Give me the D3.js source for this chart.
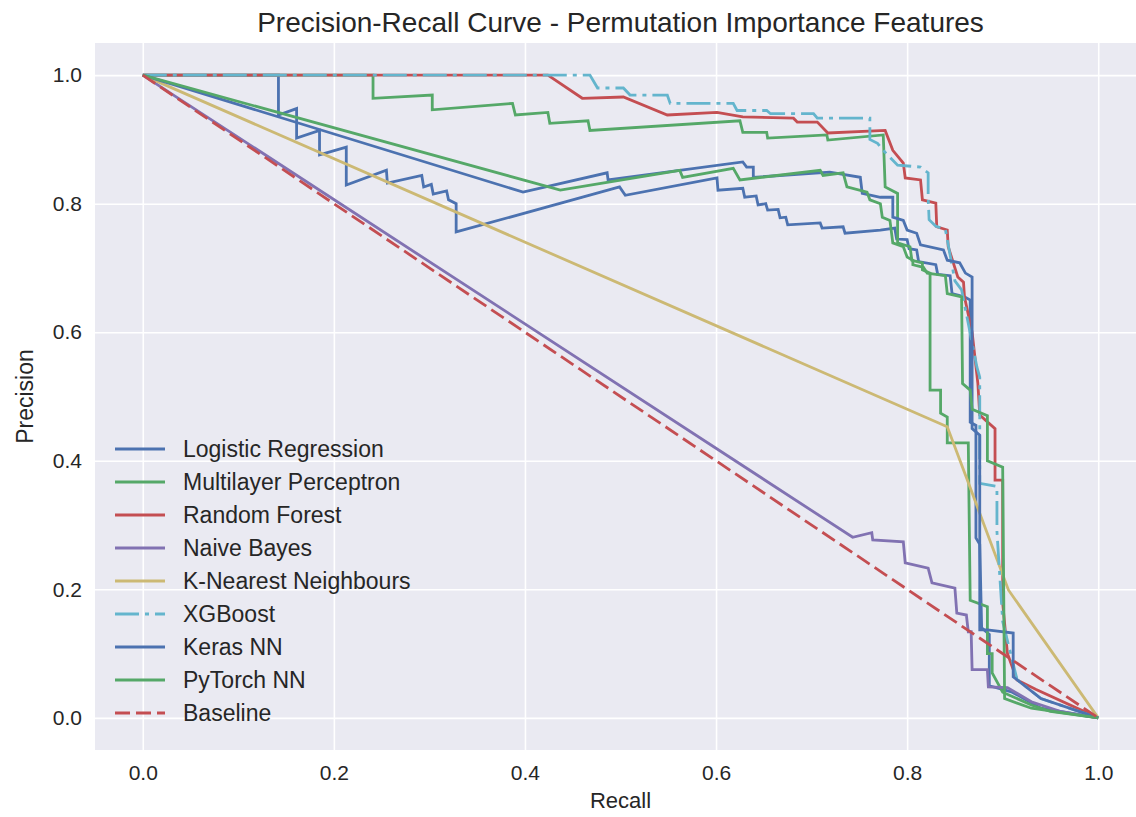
<!DOCTYPE html>
<html>
<head>
<meta charset="utf-8">
<script src="https://cdn.jsdelivr.net/npm/d3@7"></script>
<style>
  body { margin: 0; background: #ffffff; }
  text { font-family: "Liberation Sans", Arial, sans-serif; fill: #262626; }
</style>
</head>
<body>
<svg id="chart" width="1136" height="817"></svg>
<script>
// Tick positions shared by both axes
const tickValues = [0, 0.2, 0.4, 0.6, 0.8, 1.0];

// Legend labels, in plotting order
const modelNames = [
  'Logistic Regression', 'Multilayer Perceptron', 'Random Forest', 'Naive Bayes',
  'K-Nearest Neighbours', 'XGBoost', 'Keras NN', 'PyTorch NN', 'Baseline'
];

// [recall, precision] points
const logisticRegression = [[0,1],[0.142,1],[0.142,0.938],[0.161,0.948],[0.161,0.902],[0.185,0.914],[0.185,0.876],[0.213,0.888],[0.213,0.829],[0.255,0.852],[0.256,0.832],[0.292,0.844],[0.294,0.826],[0.302,0.83],[0.304,0.815],[0.318,0.82],[0.32,0.806],[0.328,0.8],[0.328,0.756],[0.499,0.826],[0.505,0.813],[0.601,0.84],[0.602,0.821],[0.628,0.824],[0.63,0.81],[0.642,0.812],[0.644,0.798],[0.652,0.8],[0.654,0.79],[0.665,0.791],[0.667,0.778],[0.673,0.779],[0.675,0.767],[0.709,0.77],[0.711,0.762],[0.733,0.764],[0.735,0.754],[0.772,0.759],[0.787,0.762],[0.789,0.745],[0.8,0.744],[0.802,0.73],[0.81,0.728],[0.812,0.71],[0.83,0.705],[0.832,0.69],[0.845,0.688],[0.847,0.66],[0.86,0.655],[0.866,0.65],[0.866,0.46],[0.872,0.455],[0.872,0.28],[0.876,0.27],[0.878,0.14],[0.886,0.13],[0.886,0.05],[0.91,0.04],[0.94,0.015],[1,0]];

const multilayerPerceptron = [[0,1],[0.241,1],[0.241,0.964],[0.303,0.969],[0.303,0.946],[0.387,0.956],[0.39,0.938],[0.424,0.942],[0.426,0.925],[0.466,0.929],[0.468,0.914],[0.625,0.929],[0.628,0.911],[0.653,0.911],[0.654,0.902],[0.716,0.907],[0.717,0.899],[0.775,0.907],[0.777,0.826],[0.79,0.816],[0.79,0.739],[0.803,0.733],[0.805,0.712],[0.816,0.708],[0.816,0.697],[0.824,0.692],[0.824,0.51],[0.835,0.51],[0.835,0.474],[0.842,0.468],[0.842,0.428],[0.864,0.428],[0.866,0.183],[0.884,0.173],[0.884,0.1],[0.889,0.1],[0.889,0.07],[0.9,0.04],[0.93,0.02],[0.95,0.01],[1,0]];

const randomForest = [[0,1],[0.424,1],[0.46,0.964],[0.503,0.966],[0.549,0.938],[0.601,0.942],[0.628,0.935],[0.681,0.933],[0.685,0.927],[0.706,0.927],[0.717,0.91],[0.777,0.914],[0.785,0.883],[0.796,0.863],[0.798,0.84],[0.814,0.837],[0.816,0.806],[0.83,0.801],[0.831,0.764],[0.842,0.759],[0.843,0.733],[0.853,0.686],[0.859,0.678],[0.86,0.655],[0.868,0.6],[0.874,0.521],[0.876,0.471],[0.892,0.45],[0.892,0.37],[0.9,0.37],[0.9,0.179],[0.905,0.1],[0.915,0.059],[0.935,0.044],[1,0]];

const naiveBayes = [[0,1],[0.743,0.281],[0.763,0.288],[0.764,0.277],[0.796,0.274],[0.798,0.241],[0.822,0.233],[0.826,0.21],[0.85,0.202],[0.852,0.163],[0.862,0.16],[0.864,0.134],[0.867,0.134],[0.868,0.075],[0.884,0.075],[0.885,0.048],[0.905,0.047],[0.93,0.025],[0.96,0.01],[1,0]];

const kNearest = [[0,1],[0.842,0.453],[0.863,0.37],[0.906,0.199],[1,0]];

const xgBoost = [[0,1],[0.468,1],[0.476,0.98],[0.503,0.98],[0.51,0.969],[0.549,0.969],[0.552,0.956],[0.618,0.956],[0.622,0.945],[0.653,0.945],[0.657,0.94],[0.702,0.94],[0.706,0.933],[0.761,0.933],[0.761,0.9],[0.769,0.894],[0.775,0.883],[0.79,0.86],[0.814,0.857],[0.822,0.848],[0.822,0.81],[0.823,0.775],[0.83,0.765],[0.84,0.76],[0.85,0.68],[0.857,0.666],[0.873,0.546],[0.876,0.53],[0.876,0.365],[0.894,0.36],[0.894,0.29],[0.9,0.15],[0.915,0.06],[0.94,0.03],[1,0]];

const kerasNN = [[0,1],[0.398,0.818],[0.486,0.848],[0.487,0.837],[0.628,0.865],[0.632,0.857],[0.639,0.857],[0.639,0.841],[0.719,0.849],[0.751,0.841],[0.753,0.816],[0.772,0.81],[0.785,0.81],[0.785,0.779],[0.796,0.774],[0.8,0.759],[0.81,0.754],[0.814,0.736],[0.838,0.728],[0.842,0.712],[0.855,0.708],[0.861,0.692],[0.868,0.686],[0.868,0.45],[0.876,0.44],[0.876,0.137],[0.884,0.137],[0.911,0.132],[0.911,0.064],[0.94,0.03],[1,0]];

const pyTorchNN = [[0,1],[0.437,0.821],[0.562,0.852],[0.565,0.841],[0.618,0.855],[0.625,0.837],[0.709,0.852],[0.712,0.844],[0.733,0.848],[0.737,0.826],[0.758,0.818],[0.761,0.806],[0.772,0.8],[0.774,0.779],[0.782,0.774],[0.785,0.739],[0.796,0.733],[0.8,0.717],[0.806,0.712],[0.806,0.705],[0.817,0.701],[0.821,0.692],[0.84,0.688],[0.842,0.66],[0.857,0.655],[0.858,0.52],[0.866,0.51],[0.868,0.48],[0.884,0.47],[0.884,0.4],[0.9,0.39],[0.902,0.03],[0.93,0.015],[1,0]];

const baseline = [[0,1],[1,0]];

// Seaborn "deep" colours and dash styles, one per series
const seriesData = [logisticRegression, multilayerPerceptron, randomForest, naiveBayes,
  kNearest, xgBoost, kerasNN, pyTorchNN, baseline];
const seriesColors = ['#4C72B0', '#55A868', '#C44E52', '#8172B2', '#CCB974', '#64B5CD', '#4C72B0', '#55A868', '#C44E52'];
const seriesDash = [null, null, null, null, null, '24,6,4,6', null, null, '15,6'];

const width = 1136;
const height = 817;
const margin = { top: 43, left: 95 };
const plotWidth = 1051;
const plotHeight = 707;

const xScale = d3.scaleLinear().domain([-0.05, 1.05]).range([margin.left, margin.left + plotWidth]);
const yScale = d3.scaleLinear().domain([-0.05, 1.05]).range([margin.top + plotHeight, margin.top]);

const svg = d3.select('#chart');

// Plot background
svg.append('rect')
  .attr('x', margin.left)
  .attr('y', margin.top)
  .attr('width', plotWidth)
  .attr('height', plotHeight)
  .attr('fill', '#EAEAF2');

// x grid + tick labels
const xAxis = svg.append('g')
  .attr('transform', `translate(0, ${margin.top + plotHeight})`)
  .call(d3.axisBottom(xScale).tickValues(tickValues).tickFormat(d3.format('.1f'))
    .tickSize(-plotHeight).tickPadding(15));

// y grid + tick labels
const yAxis = svg.append('g')
  .attr('transform', `translate(${margin.left}, 0)`)
  .call(d3.axisLeft(yScale).tickValues(tickValues).tickFormat(d3.format('.1f'))
    .tickSize(-plotWidth).tickPadding(13));

[xAxis, yAxis].forEach((axis) => {
  axis.select('.domain').remove();
  axis.selectAll('line').attr('stroke', '#ffffff').attr('stroke-width', 1.6);
  axis.selectAll('text').style('font-size', '21px').attr('fill', '#262626');
});

svg.append('clipPath').attr('id', 'plot-clip')
  .append('rect')
  .attr('x', margin.left).attr('y', margin.top)
  .attr('width', plotWidth).attr('height', plotHeight);

// The curves
const line = d3.line()
  .x((d) => xScale(d[0]))
  .y((d) => yScale(d[1]));

svg.append('g')
  .attr('clip-path', 'url(#plot-clip)')
  .selectAll('path')
  .data(seriesData)
  .enter()
  .append('path')
  .attr('d', line)
  .attr('fill', 'none')
  .attr('stroke', (d, i) => seriesColors[i])
  .attr('stroke-width', 2.8)
  .attr('stroke-linejoin', 'miter')
  .attr('stroke-dasharray', (d, i) => seriesDash[i]);

// Legend (no frame)
const legend = svg.append('g');
modelNames.forEach((name, i) => {
  const y = 449 + i * 33;
  legend.append('line')
    .attr('x1', 115).attr('x2', 165)
    .attr('y1', y).attr('y2', y)
    .attr('stroke', seriesColors[i])
    .attr('stroke-width', 2.8)
    .attr('stroke-dasharray', seriesDash[i]);
  legend.append('text')
    .attr('x', 183)
    .attr('y', y)
    .attr('dy', '0.35em')
    .style('font-size', '23px')
    .text(name);
});

// Title
svg.append('text')
  .attr('x', margin.left + plotWidth / 2)
  .attr('y', 32)
  .style('text-anchor', 'middle')
  .style('font-size', '28px')
  .text('Precision-Recall Curve - Permutation Importance Features');

// x-axis label
svg.append('text')
  .attr('x', margin.left + plotWidth / 2)
  .attr('y', 808)
  .style('text-anchor', 'middle')
  .style('font-size', '22px')
  .text('Recall');

// y-axis label
svg.append('text')
  .attr('x', -(margin.top + plotHeight / 2))
  .attr('y', 33)
  .attr('transform', 'rotate(-90)')
  .style('text-anchor', 'middle')
  .style('font-size', '23px')
  .text('Precision');
</script>
</body>
</html>
